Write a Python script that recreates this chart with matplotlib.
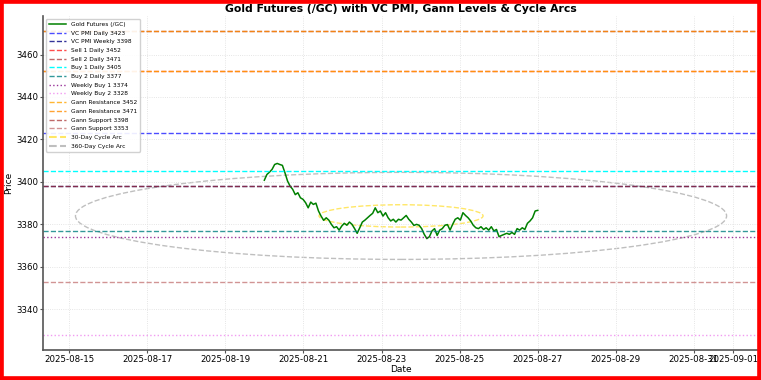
import pandas as pd
import matplotlib.pyplot as plt
import matplotlib.dates as mdates
from matplotlib.patches import Ellipse, Rectangle

# Gold futures price (08-20 -> 08-27)
prices = [
    3400.8, 3403.5, 3404.6, 3405.9, 3408.2, 3408.7, 3408.2, 3407.8, 3404.3, 3400.4,
    3398.0, 3396.5, 3394.0, 3394.9, 3392.5, 3391.8, 3390.2, 3387.8, 3390.5, 3389.4,
    3390.0, 3386.3, 3383.9, 3381.9, 3383.1, 3382.0, 3380.0, 3378.4, 3378.9, 3377.3,
    3379.2, 3380.5, 3379.6, 3381.1, 3380.0, 3378.0, 3375.8, 3378.4, 3381.1, 3382.0,
    3383.1, 3384.2, 3385.2, 3387.8, 3385.5, 3386.3, 3383.9, 3385.5, 3383.1, 3381.6,
    3382.4, 3381.1, 3382.4, 3382.0, 3383.1, 3384.2, 3382.4, 3381.1, 3379.5, 3380.0,
    3379.6, 3378.0, 3375.3, 3373.3, 3374.2, 3376.9, 3378.0, 3374.8, 3377.3, 3378.0,
    3379.6, 3379.9, 3377.3, 3380.0, 3382.4, 3383.1, 3382.0, 3385.5, 3384.2, 3383.1,
    3381.6, 3379.6, 3378.4, 3378.0, 3378.9, 3377.6, 3378.4, 3377.3, 3378.9, 3376.9,
    3377.6, 3374.2, 3374.8, 3375.3, 3375.8, 3375.3, 3376.2, 3375.3, 3378.0, 3377.3,
    3378.4, 3377.6, 3380.5, 3381.6, 3383.1, 3386.3, 3386.6,
]
dates = pd.date_range('2025-08-20 00:00', '2025-08-27 00:00', periods=len(prices))

# Horizontal levels: (label, value, color, linestyle, alpha)
levels = [
    ('VC PMI Daily 3423', 3423, 'blue', '--', 0.7),
    ('VC PMI Weekly 3398', 3398, 'navy', '--', 0.8),
    ('Sell 1 Daily 3452', 3452, 'red', '--', 0.7),
    ('Sell 2 Daily 3471', 3471, 'brown', '--', 0.7),
    ('Buy 1 Daily 3405', 3405, 'cyan', '--', 1.0),
    ('Buy 2 Daily 3377', 3377, 'teal', '--', 0.8),
    ('Weekly Buy 1 3374', 3374, 'purple', ':', 0.8),
    ('Weekly Buy 2 3328', 3328, 'violet', ':', 0.8),
    ('Gann Resistance 3452', 3452, 'orange', '--', 0.8),
    ('Gann Resistance 3471', 3471, 'darkorange', '--', 0.8),
    ('Gann Support 3398', 3398, 'brown', '--', 0.7),
    ('Gann Support 3353', 3353, 'brown', '--', 0.5),
]

# Cycle arcs (center date, center price, width in days, height in price)
arc_center_date = '2025-08-23 12:00'
arc_center_price = 3384
arc30_width, arc30_height = 4.2, 10.5
arc360_width, arc360_height = 16.67, 41

fig = plt.figure(figsize=(7.61, 3.80), dpi=100)
ax = fig.add_axes([0.0565, 0.079, 0.9415, 0.879])

ax.plot(dates, prices, color='green', lw=1.1, label='Gold Futures (/GC)')

for label, val, col, ls, a in levels:
    ax.axhline(val, color=col, linestyle=ls, alpha=a, lw=1.0, label=label)

cx = mdates.date2num(pd.Timestamp(arc_center_date))
arc30 = Ellipse((cx, arc_center_price), arc30_width, arc30_height, fill=False,
                edgecolor='gold', linestyle='--', alpha=0.6, lw=1.0)
arc360 = Ellipse((cx, arc_center_price), arc360_width, arc360_height, fill=False,
                 edgecolor='gray', linestyle='--', alpha=0.5, lw=1.0)
ax.add_patch(arc30)
ax.add_patch(arc360)
ax.plot([], [], color='gold', linestyle='--', alpha=0.6, label='30-Day Cycle Arc')
ax.plot([], [], color='gray', linestyle='--', alpha=0.5, label='360-Day Cycle Arc')

ax.set_xlim(pd.Timestamp('2025-08-14 08:00'), pd.Timestamp('2025-09-01 16:15'))
ax.set_ylim(3320.85, 3478.15)
ax.xaxis.set_major_locator(mdates.DayLocator(bymonthday=[1, 15, 17, 19, 21, 23, 25, 27, 29, 31]))
ax.xaxis.set_major_formatter(mdates.DateFormatter('%Y-%m-%d'))

ax.set_title('Gold Futures (/GC) with VC PMI, Gann Levels & Cycle Arcs',
             fontsize=7.8, fontweight='bold', pad=3)
ax.set_xlabel('Date', fontsize=6.5, labelpad=1)
ax.set_ylabel('Price', fontsize=6.5, labelpad=2)
ax.tick_params(labelsize=6.2, length=2, pad=1.5, color='#555555')
ax.grid(True, linestyle=':', color='#dddddd', lw=0.6)
for s in ['top', 'right']:
    ax.spines[s].set_visible(False)
for s in ['left', 'bottom']:
    ax.spines[s].set_color('#555555')
    ax.spines[s].set_linewidth(1.2)

ax.legend(loc='upper left', fontsize=4.2, framealpha=0.9, borderpad=0.5,
          labelspacing=0.62, handlelength=3.0)

# red frame round the picture
fig.add_artist(Rectangle((0, 0), 1, 1, transform=fig.transFigure, fill=False,
                         edgecolor='red', lw=5.5, zorder=100))

fig.savefig('out.png', dpi=100)
